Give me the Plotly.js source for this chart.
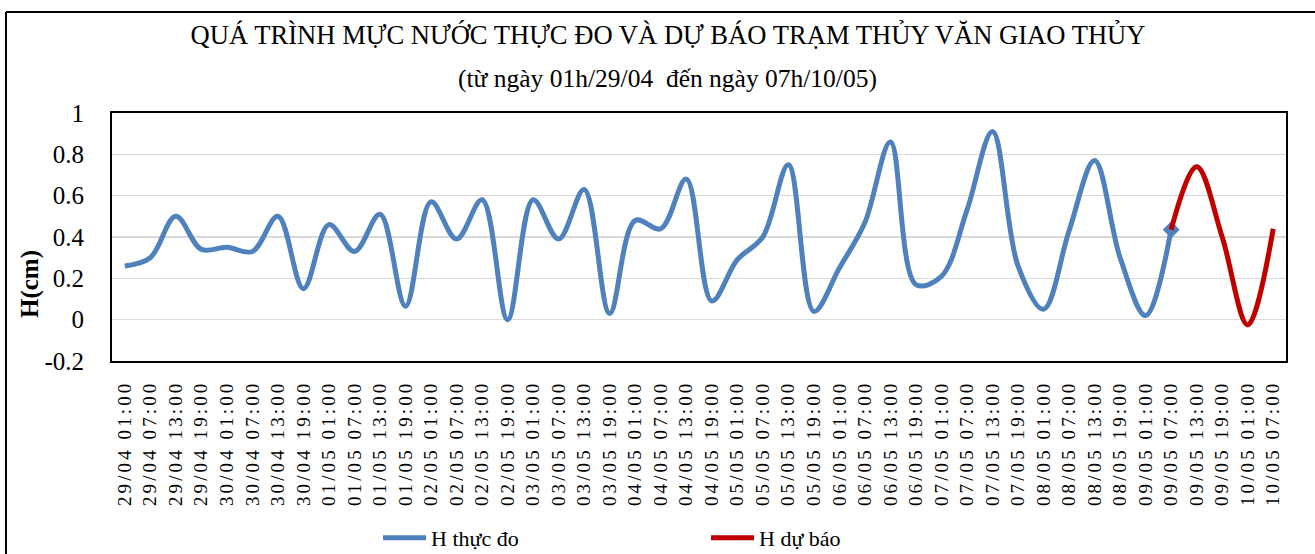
<!DOCTYPE html>
<html><head><meta charset="utf-8">
<script src="https://cdn.plot.ly/plotly-3.0.1.min.js"></script>
<style>
html,body{margin:0;padding:0;background:#fff;overflow:hidden;width:1315px;height:554px}
#chart{width:1315px;height:580px}
#chart .xtick text{letter-spacing:3.1px}
</style></head><body><div id="chart"></div>
<script>
const timeLabels = [
  "29/04 01:00","29/04 07:00","29/04 13:00","29/04 19:00",
  "30/04 01:00","30/04 07:00","30/04 13:00","30/04 19:00",
  "01/05 01:00","01/05 07:00","01/05 13:00","01/05 19:00",
  "02/05 01:00","02/05 07:00","02/05 13:00","02/05 19:00",
  "03/05 01:00","03/05 07:00","03/05 13:00","03/05 19:00",
  "04/05 01:00","04/05 07:00","04/05 13:00","04/05 19:00",
  "05/05 01:00","05/05 07:00","05/05 13:00","05/05 19:00",
  "06/05 01:00","06/05 07:00","06/05 13:00","06/05 19:00",
  "07/05 01:00","07/05 07:00","07/05 13:00","07/05 19:00",
  "08/05 01:00","08/05 07:00","08/05 13:00","08/05 19:00",
  "09/05 01:00","09/05 07:00","09/05 13:00","09/05 19:00",
  "10/05 01:00","10/05 07:00"
];
const observedH = [
  0.26, 0.30, 0.50, 0.34, 0.35, 0.33, 0.50, 0.15, 0.46, 0.33,
  0.51, 0.065, 0.57, 0.39, 0.58, 0.00, 0.58, 0.39, 0.63, 0.03,
  0.48, 0.44, 0.68, 0.09, 0.29, 0.40, 0.75, 0.04, 0.25, 0.47,
  0.86, 0.17, 0.21, 0.53, 0.91, 0.26, 0.05, 0.43, 0.77, 0.30,
  0.02, 0.435
];
const forecastH = [0.435, 0.74, 0.40, -0.025, 0.44];
const forecastStart = 41;
const yTickVals = [-0.2, 0, 0.2, 0.4, 0.6, 0.8, 1];
const yTickText = ["-0.2", "0", "0.2", "0.4", "0.6", "0.8", "1"];
const seriesNames = ["H thực đo", "H dự báo"];
const chartTitle = "QUÁ TRÌNH MỰC NƯỚC THỰC ĐO VÀ DỰ BÁO TRẠM THỦY VĂN GIAO THỦY";
const chartSubtitle = "(từ ngày 01h/29/04&nbsp; đến ngày 07h/10/05)";

const FONT = "'Liberation Serif', 'Times New Roman', serif";
const obsX = timeLabels.slice(0, observedH.length);
const fcX = timeLabels.slice(forecastStart, forecastStart + forecastH.length);
const lastIdx = observedH.length - 1;

const traces = [
  {
    type: "scatter", mode: "lines", name: seriesNames[0],
    x: obsX, y: observedH,
    line: {color: "#4f81bd", width: 5, shape: "spline", smoothing: 1}
  },
  {
    type: "scatter", mode: "markers", showlegend: false, hoverinfo: "skip",
    x: [obsX[lastIdx]], y: [observedH[lastIdx]],
    marker: {symbol: "diamond", size: 13, color: "#4f81bd"}
  },
  {
    type: "scatter", mode: "lines", name: seriesNames[1],
    x: fcX, y: forecastH,
    line: {color: "#c00000", width: 5, shape: "spline", smoothing: 1}
  }
];

const W = 1315, H = 580;
const L = 112, R = 1286, T = 113, B = 361;
const px = v => (v - L) / (R - L);
const py = v => (B - v) / (B - T);

const layout = {
  width: W, height: H,
  margin: {l: L, r: W - R, t: T, b: H - B, pad: 0},
  paper_bgcolor: "#fff", plot_bgcolor: "#fff",
  font: {family: FONT, color: "#000"},
  showlegend: true,
  title: {
    text: chartTitle, xref: "container", yref: "container",
    x: 668 / W, xanchor: "center", y: 1 - 35 / H, yanchor: "middle",
    font: {family: FONT, size: 26.6, color: "#000"}
  },
  annotations: [
    {text: chartSubtitle, xref: "paper", yref: "paper", x: px(667), y: py(79),
     xanchor: "center", yanchor: "middle", showarrow: false,
     font: {family: FONT, size: 25.5, color: "#000"}},
    {text: "<b>H(cm)</b>", xref: "paper", yref: "paper", x: px(30), y: py(284),
     xanchor: "center", yanchor: "middle", showarrow: false, textangle: -90,
     font: {family: FONT, size: 25, color: "#000"}}
  ],
  xaxis: {
    type: "category", categoryorder: "array", categoryarray: timeLabels,
    range: [-0.5, timeLabels.length - 0.5],
    tickangle: -90, ticks: "", ticklabelstandoff: 10,
    tickfont: {family: FONT, size: 19, color: "#000"},
    showgrid: false, zeroline: false,
    showline: true, linecolor: "#000", linewidth: 2, mirror: true
  },
  yaxis: {
    range: [-0.2, 1], tickvals: yTickVals, ticktext: yTickText,
    ticks: "", ticklabelstandoff: 21,
    tickfont: {family: FONT, size: 25, color: "#000"},
    showgrid: true, gridcolor: "#d9d9d9", gridwidth: 1.5, zeroline: false,
    showline: true, linecolor: "#000", linewidth: 2, mirror: true
  },
  legend: {
    orientation: "h", x: px(378), xanchor: "left", y: py(538), yanchor: "middle",
    font: {family: FONT, size: 22, color: "#000"},
    itemwidth: 43, entrywidth: 270, bgcolor: "rgba(0,0,0,0)"
  },
  shapes: [
    {type: "line", xref: "paper", yref: "paper",
     x0: px(6), x1: px(1340), y0: py(12), y1: py(12),
     line: {color: "#000", width: 2}, layer: "above"},
    {type: "line", xref: "paper", yref: "paper",
     x0: px(6), x1: px(6), y0: py(12), y1: py(600),
     line: {color: "#000", width: 2}, layer: "above"}
  ]
};

Plotly.newPlot("chart", traces, layout, {displayModeBar: false, staticPlot: true});
</script></body></html>
